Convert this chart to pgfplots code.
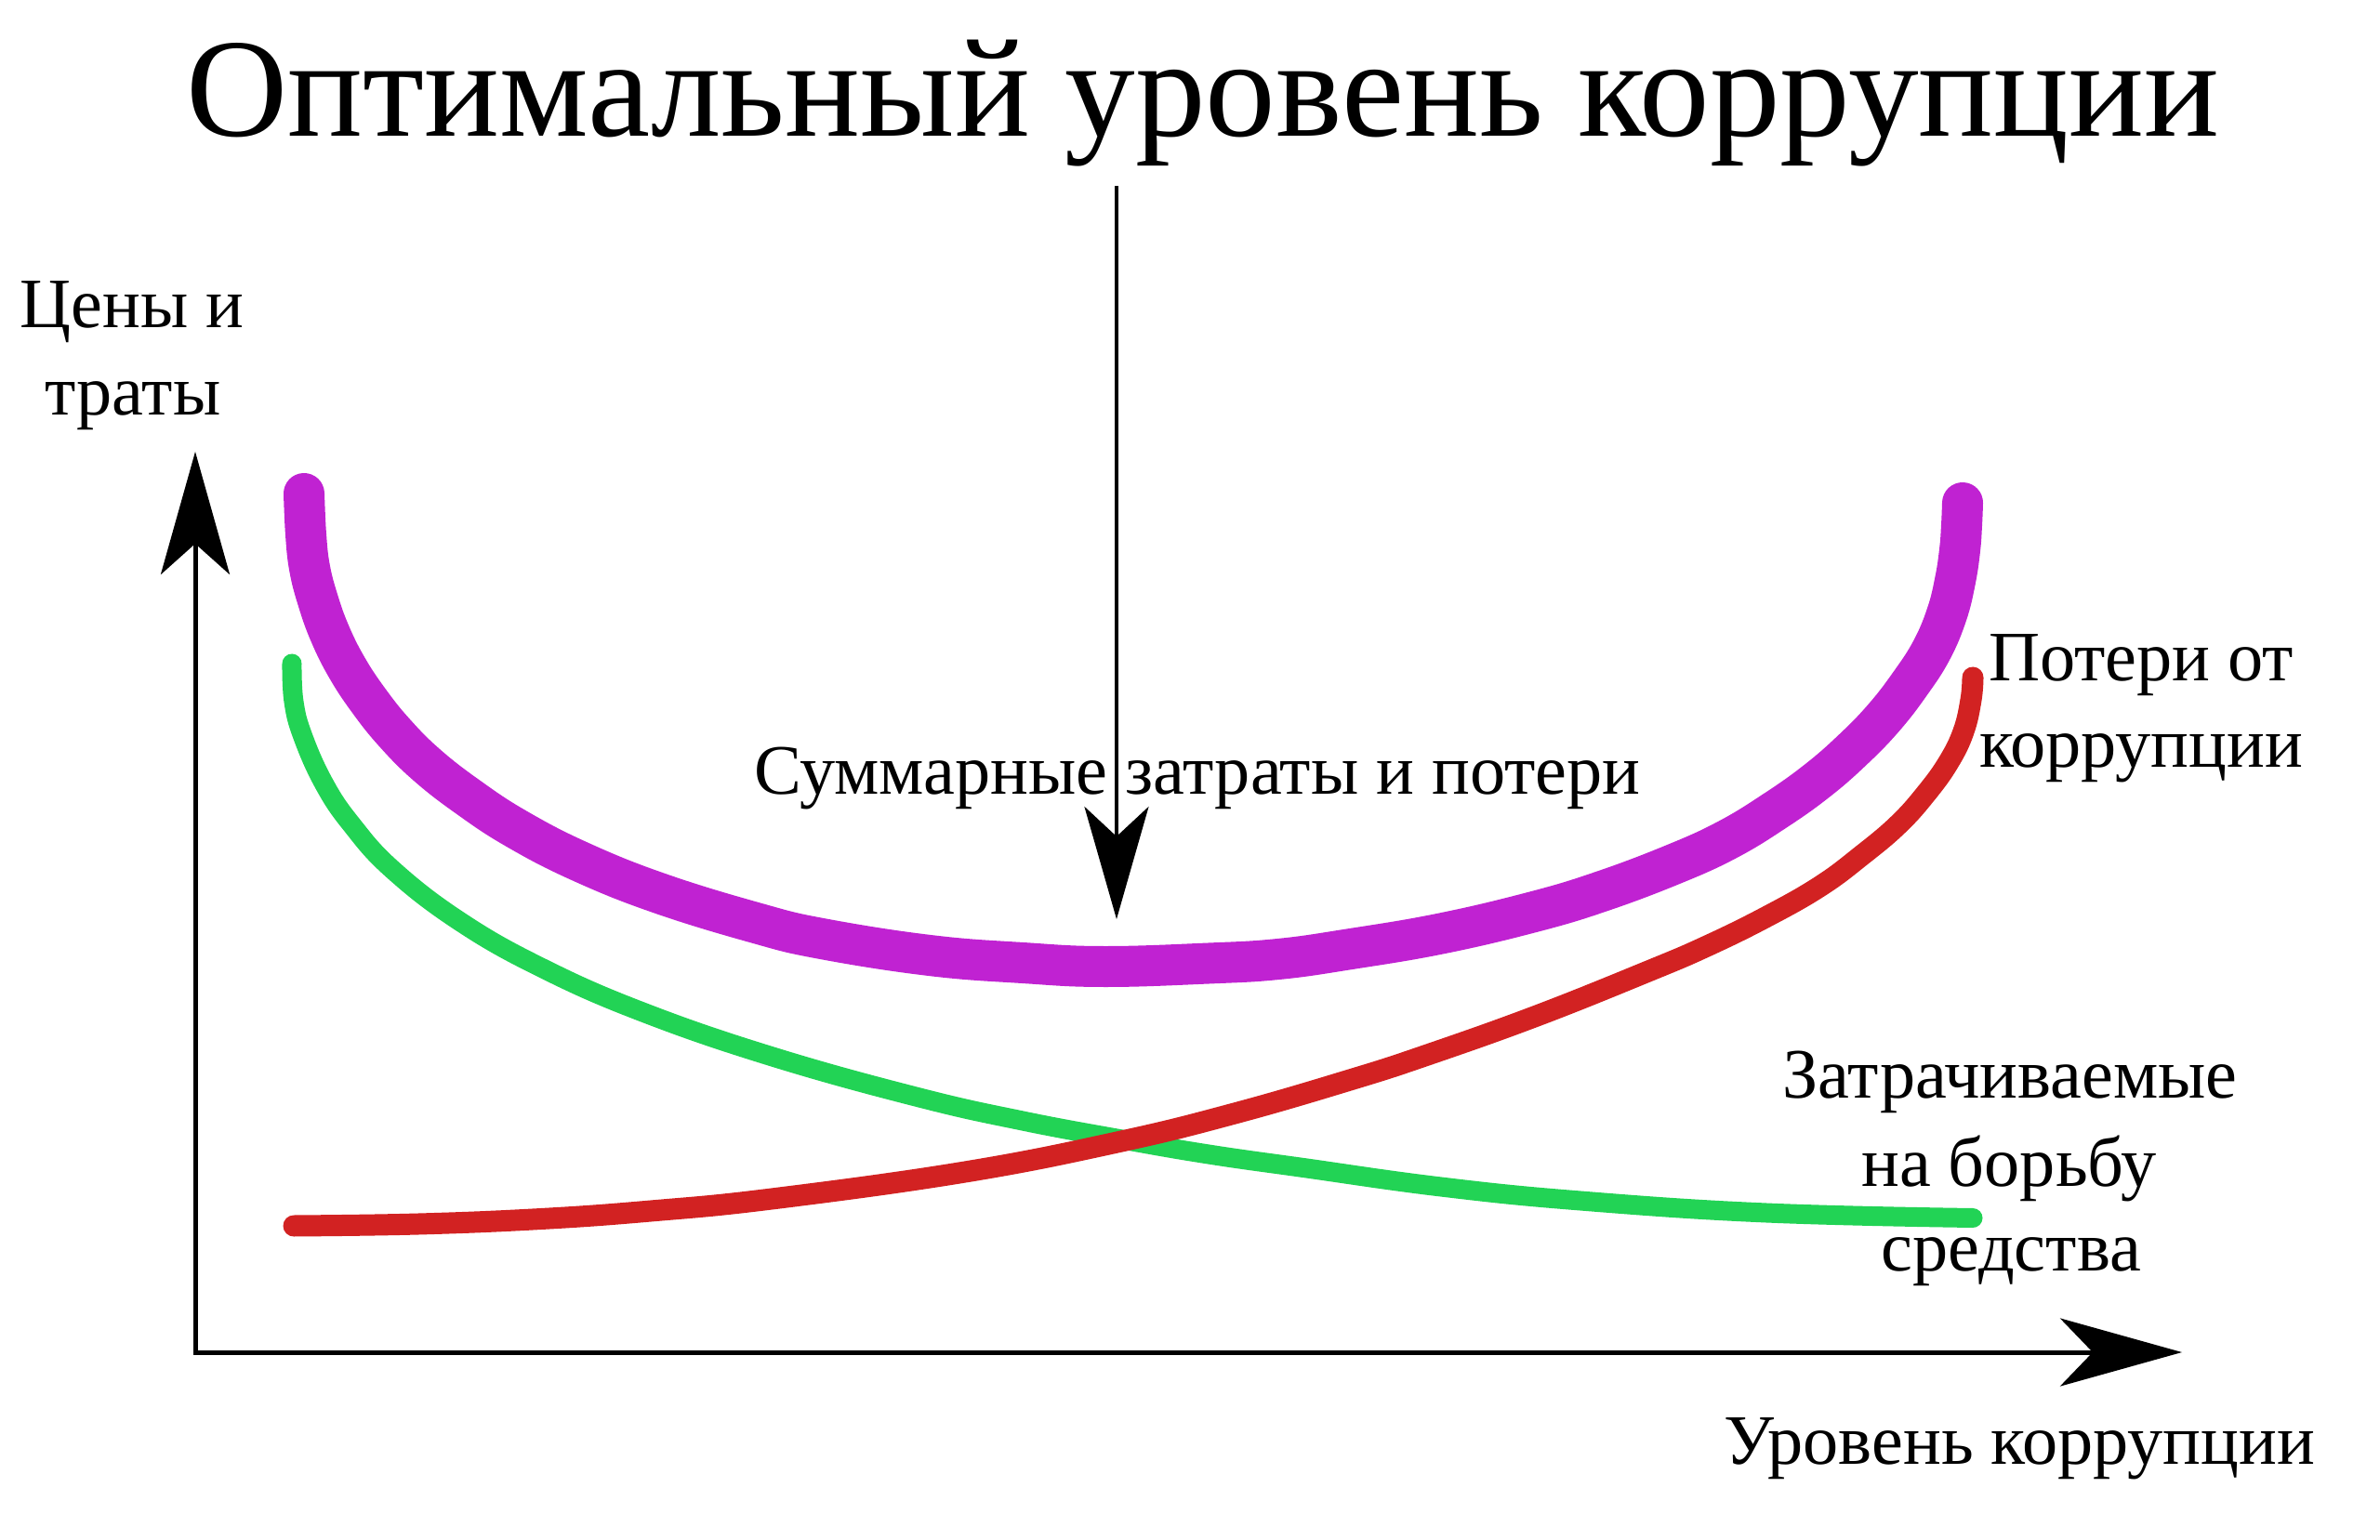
\documentclass[border=0pt]{standalone}
\usepackage{fontspec}
\setmainfont{Liberation Serif}
\usepackage{pgfplots}
\pgfplotsset{compat=1.18}
\usetikzlibrary{arrows.meta}

\definecolor{totalc}{RGB}{192,34,210}
\definecolor{fightc}{RGB}{34,211,85}
\definecolor{lossc}{RGB}{210,34,34}

\newcommand\bodyfont{\fontsize{21.7}{25}\selectfont}
\newcommand\titlefont{\fontsize{43}{50}\selectfont}

\begin{document}
\begin{tikzpicture}
\begin{axis}[
    scale only axis,
    width=25.6cm, height=16.56cm,
    xmin=0, xmax=2560, ymin=0, ymax=1656,
    hide axis,
    clip=false,
    every axis plot/.append style={tension=0.7},
]
% axes
\addplot[black, line width=0.05cm, line join=miter,
    {Stealth[length=1.32cm,width=0.74cm,inset=0.33cm]}-{Stealth[length=1.31cm,width=0.73cm,inset=0.35cm]}]
    coordinates {(210,1170) (210,201) (2347,201)};

% spending on fighting corruption
\addplot[fightc, line width=0.21cm, line cap=round, smooth] coordinates {
    (314,942) (316,901) (326,863) (349,812) (378,769) (422,720.5) (494,665)
    (581,615.5) (690,567.5) (831,519) (989,475) (1100,450) (1204,430.5)
    (1300,414) (1402,399.5) (1550,379) (1700,364) (1900,351) (2122,345.5)
};

% losses from corruption
\addplot[lossc, line width=0.23cm, line cap=round, smooth] coordinates {
    (316,337) (450,339) (582,344.5) (700,353) (830,366) (1038,395) (1204,427.5)
    (1328,458) (1452,494) (1534,520.5) (1653,563) (1773,611) (1836,638)
    (1900,669.5) (1958,702.5) (2003,736) (2042,769) (2072,802.5) (2096,836)
    (2112,869) (2120,903) (2122,927)
};

% total
\addplot[totalc, line width=0.44cm, line cap=round, smooth] coordinates {
    (327,1125) (329,1081) (333,1045) (342,1010) (355,974) (373,938) (396,903)
    (424,868) (459,833) (504,798) (556,764) (624,729) (709,695) (813,663)
    (884,646) (1000,628) (1100,620) (1187,616) (1300,619.5) (1375,624)
    (1450,634.5) (1550,651.5) (1650,675) (1723,697) (1800,726) (1858,752.5)
    (1909,783.5) (1954,815.5) (1992,848.5) (2026,883.5) (2055,921) (2078,957)
    (2094,995) (2103,1031) (2108,1064) (2110,1091) (2111,1115)
};

% arrow from the title to the minimum
\addplot[black, line width=0.045cm, -{Stealth[length=1.21cm,width=0.69cm,inset=0.32cm]}]
    coordinates {(1201,1456) (1201,667)};

\node[anchor=base, font=\titlefont] at (axis cs:1294,1509) {Оптимальный уровень коррупции};
\node[anchor=base, font=\bodyfont] at (axis cs:142,1303) {Цены и};
\node[anchor=base, font=\bodyfont] at (axis cs:143,1209) {траты};
\node[anchor=base, font=\bodyfont] at (axis cs:1288,801) {Суммарные затраты и потери};
\node[anchor=base, font=\bodyfont] at (axis cs:2303,923) {Потери от};
\node[anchor=base, font=\bodyfont] at (axis cs:2303,830) {коррупции};
\node[anchor=base, font=\bodyfont] at (axis cs:2162,475) {Затрачиваемые};
\node[anchor=base, font=\bodyfont] at (axis cs:2161,380) {на борьбу};
\node[anchor=base, font=\bodyfont] at (axis cs:2163,289) {средства};
\node[anchor=base, font=\bodyfont] at (axis cs:2172,81) {Уровень коррупции};

\coordinate (bl) at (axis cs:0,0);
\coordinate (tr) at (axis cs:2560,1656);
\end{axis}
\pgfresetboundingbox
\path (bl) rectangle (tr);
\end{tikzpicture}
\end{document}
